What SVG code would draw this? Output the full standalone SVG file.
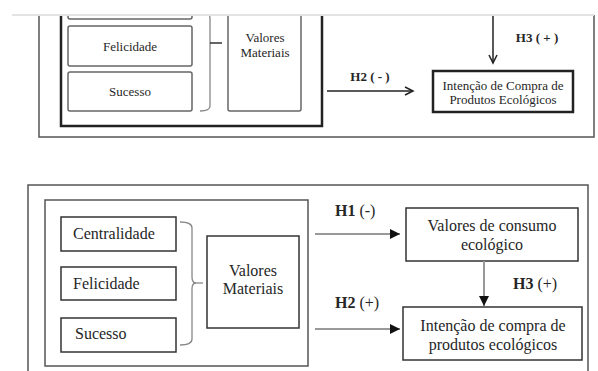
<svg xmlns="http://www.w3.org/2000/svg" width="598" height="371" viewBox="0 0 598 371" font-family="'Liberation Serif', 'DejaVu Serif', serif">
  <defs>
    <style>
      text { font-family: 'Liberation Serif', 'DejaVu Serif', serif; fill: #262626; }
      .s13 { font-size: 13px; }
      .s16 { font-size: 16px; }
      .b { font-weight: bold; }
      .frame { fill: none; stroke: #555; stroke-width: 1.5; }
      .thick { fill: none; stroke: #222; stroke-width: 2.5; }
      .box { fill: #fff; stroke: #666; stroke-width: 1.5; }
      .boxd { fill: #fff; stroke: #333; stroke-width: 1.5; }
      .brace { fill: none; stroke: #888; stroke-width: 1.3; }
      .ln { stroke: #222; stroke-width: 1.5; fill: none; }
      .lg { stroke: #999; stroke-width: 2; fill: none; }
    </style>
    <marker id="open" markerWidth="12" markerHeight="12" refX="9" refY="5" orient="auto" markerUnits="userSpaceOnUse">
      <path d="M1,1 L9,5 L1,9" fill="none" stroke="#222" stroke-width="1.5"/>
    </marker>
    <marker id="solid" markerWidth="12" markerHeight="12" refX="10" refY="5" orient="auto" markerUnits="userSpaceOnUse">
      <path d="M0,0 L10,5 L0,10 Z" fill="#111"/>
    </marker>
    <clipPath id="cut">
      <rect x="0" y="15" width="598" height="140"/>
    </clipPath>
  </defs>

  <!-- Upper model (cropped at the top) -->
  <g id="upper" clip-path="url(#cut)">
    <path class="frame" d="M39,0 V137 H594 V0"/>
    <path class="thick" d="M61,0 V126 H322 V0"/>

    <g id="u-centralidade">
      <rect class="box" x="68" y="-20" width="124" height="39" rx="2"/>
    </g>
    <g id="u-felicidade">
      <rect class="box" x="68" y="26" width="124" height="40" rx="2"/>
      <text class="s13" x="130" y="51" text-anchor="middle">Felicidade</text>
    </g>
    <g id="u-sucesso">
      <rect class="box" x="68" y="72" width="124" height="39" rx="2"/>
      <text class="s13" x="130" y="96" text-anchor="middle">Sucesso</text>
    </g>
    <g id="u-brace">
      <path class="brace" d="M200,12 Q210,12 210,18 V106 Q210,111 200,111"/>
      <line x1="210" y1="43" x2="222" y2="43" stroke="#333" stroke-width="1.5"/>
    </g>
    <g id="u-valores">
      <rect class="box" x="228" y="-20" width="73" height="131" rx="2"/>
      <text class="s13" x="265" y="42" text-anchor="middle">Valores</text>
      <text class="s13" x="265" y="57" text-anchor="middle">Materiais</text>
    </g>
    <g id="u-intencao">
      <rect class="thick" x="433" y="71" width="140" height="41"/>
      <text class="s13" x="503" y="90" text-anchor="middle">Intenção de Compra de</text>
      <text class="s13" x="503" y="104" text-anchor="middle">Produtos Ecológicos</text>
    </g>
    <g id="u-connectors">
      <line class="ln" x1="327" y1="91" x2="413" y2="91" marker-end="url(#open)"/>
      <line class="ln" x1="493" y1="10" x2="493" y2="63" marker-end="url(#open)"/>
      <text class="s13 b" x="370" y="81" text-anchor="middle">H2 ( - )</text>
      <text class="s13 b" x="537" y="42" text-anchor="middle">H3 ( + )</text>
    </g>
  </g>
  <line x1="12" y1="15" x2="594" y2="15" stroke="#e3e3e3" stroke-width="2"/>

  <!-- Lower model -->
  <g id="lower">
    <path class="frame" d="M28,380 V185 H588 V380"/>
    <rect class="frame" x="45" y="200" width="263" height="166"/>

    <g id="centralidade">
      <rect class="boxd" x="61" y="217" width="115" height="34"/>
      <text class="s16" x="73" y="239">Centralidade</text>
    </g>
    <g id="felicidade">
      <rect class="boxd" x="61" y="267" width="115" height="33"/>
      <text class="s16" x="73" y="289">Felicidade</text>
    </g>
    <g id="sucesso">
      <rect class="boxd" x="61" y="318" width="115" height="34"/>
      <text class="s16" x="75" y="339">Sucesso</text>
    </g>
    <g id="brace">
      <path class="brace" d="M180,222 Q192,222 192,228 V277 Q192,283 196,283 Q192,283 192,289 V339 Q192,345 180,345"/>
      <line x1="193" y1="283" x2="203" y2="283" stroke="#888" stroke-width="1.3"/>
    </g>
    <g id="valores-materiais">
      <rect class="boxd" x="207" y="236" width="92" height="92"/>
      <text class="s16" x="253" y="276" text-anchor="middle">Valores</text>
      <text class="s16" x="253" y="294" text-anchor="middle">Materiais</text>
    </g>
    <g id="valores-consumo">
      <rect class="boxd" x="406" y="208" width="172" height="53"/>
      <text class="s16" x="492" y="231" text-anchor="middle">Valores de consumo</text>
      <text class="s16" x="492" y="250" text-anchor="middle">ecológico</text>
    </g>
    <g id="intencao">
      <rect class="boxd" x="403" y="307" width="179" height="53"/>
      <text class="s16" x="493" y="331" text-anchor="middle">Intenção de compra de</text>
      <text class="s16" x="493" y="350" text-anchor="middle">produtos ecológicos</text>
    </g>
  </g>

  <g id="connectors">
    <line class="lg" x1="315" y1="234" x2="400" y2="234" marker-end="url(#solid)"/>
    <line class="lg" x1="315" y1="329" x2="400" y2="329" marker-end="url(#solid)"/>
    <line class="lg" x1="484" y1="261" x2="484" y2="306" marker-end="url(#solid)"/>
    <text class="s16" x="335" y="216"><tspan class="b">H1</tspan> (-)</text>
    <text class="s16" x="335" y="308"><tspan class="b">H2</tspan> (+)</text>
    <text class="s16" x="513" y="289"><tspan class="b">H3</tspan> (+)</text>
  </g>
</svg>
